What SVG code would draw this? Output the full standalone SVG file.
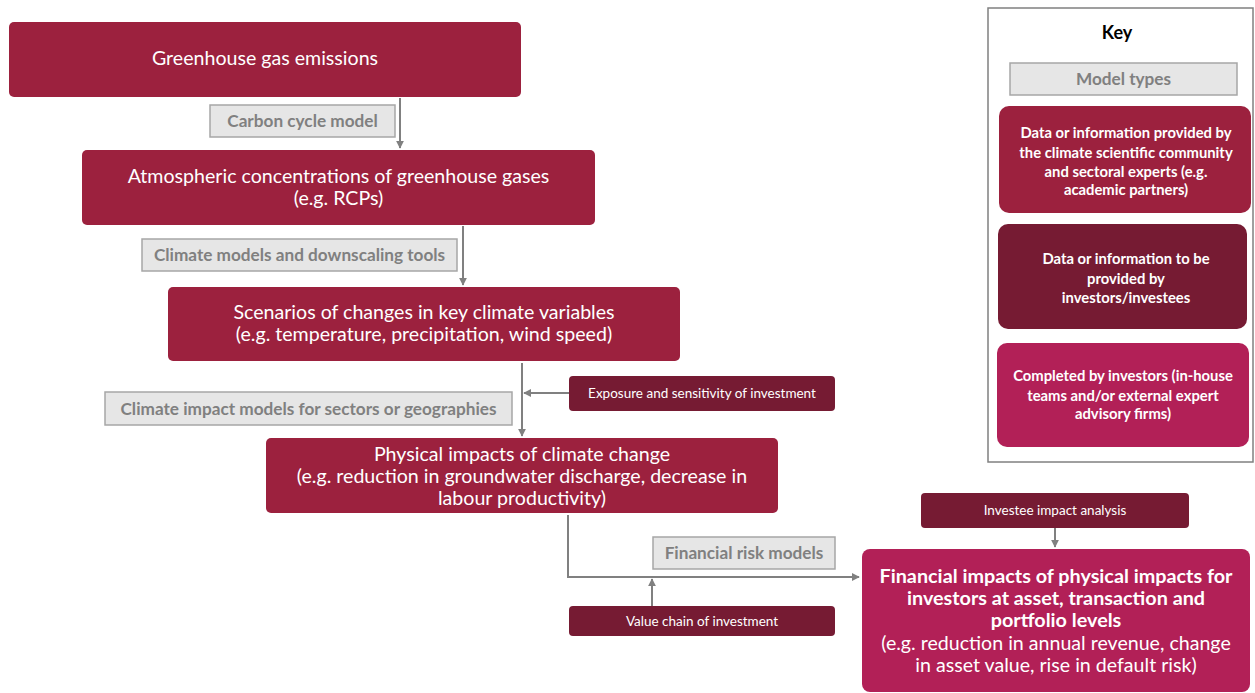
<svg xmlns="http://www.w3.org/2000/svg" width="1255" height="693" viewBox="0 0 1255 693">
<defs>
<style>
.red{fill:#9C213E}
.dark{fill:#761B33}
.mag{fill:#B22057}
.lbl{fill:#E6E6E6;stroke:#A6A6A6;stroke-width:1.5}
.lt{font-family:Lato,"Open Sans",sans-serif;font-weight:bold;font-size:17.2px;fill:#808080;text-anchor:middle}
.nt{font-family:Lato,"Open Sans",sans-serif;font-size:19.6px;fill:#fff;text-anchor:middle}
.st{font-family:Lato,"Open Sans",sans-serif;font-size:13.5px;fill:#fff;text-anchor:middle}
.kt{font-family:Lato,"Open Sans",sans-serif;font-weight:bold;font-size:14.8px;fill:#fff;text-anchor:middle}
.ft{font-family:Lato,"Open Sans",sans-serif;font-weight:bold;font-size:19.8px;fill:#fff;text-anchor:middle}
.con{fill:none;stroke:#808080;stroke-width:2}
</style>
<marker id="ah" viewBox="0 0 10 10" refX="9" refY="5" markerWidth="4" markerHeight="4" orient="auto" markerUnits="strokeWidth">
<path d="M0,0 L10,5 L0,10 z" fill="#808080"/>
</marker>
</defs>
<rect width="1255" height="693" fill="#fff"/>

<g id="connectors">
<path class="con" d="M400,98 V148" marker-end="url(#ah)"/>
<path class="con" d="M463,226 V285" marker-end="url(#ah)"/>
<path class="con" d="M522,363 V436" marker-end="url(#ah)"/>
<path class="con" d="M569,393 H524" marker-end="url(#ah)"/>
<path class="con" d="M568,515 V577 H859" marker-end="url(#ah)"/>
<path class="con" d="M652,606 V579" marker-end="url(#ah)"/>
<path class="con" d="M1055,528 V547" marker-end="url(#ah)"/>
</g>

<g id="ghg">
<rect class="red" x="9" y="22" width="512" height="75" rx="5"/>
<text class="nt" x="265" y="65">Greenhouse gas emissions</text>
</g>
<g id="carbon-cycle-model">
<rect class="lbl" x="210" y="105" width="185" height="32"/>
<text class="lt" x="302.5" y="127">Carbon cycle model</text>
</g>
<g id="atmospheric">
<rect class="red" x="82" y="150" width="513" height="75" rx="5"/>
<text class="nt" x="338.5" y="183">Atmospheric concentrations of greenhouse gases</text>
<text class="nt" x="338.5" y="205">(e.g. RCPs)</text>
</g>
<g id="climate-models">
<rect class="lbl" x="142" y="239" width="315" height="32"/>
<text class="lt" x="299.5" y="261">Climate models and downscaling tools</text>
</g>
<g id="scenarios">
<rect class="red" x="168" y="287" width="512" height="74" rx="5"/>
<text class="nt" x="424" y="319">Scenarios of changes in key climate variables</text>
<text class="nt" x="424" y="341">(e.g. temperature, precipitation, wind speed)</text>
</g>
<g id="exposure">
<rect class="dark" x="569" y="376" width="266" height="35" rx="4"/>
<text class="st" x="702" y="398">Exposure and sensitivity of investment</text>
</g>
<g id="climate-impact-models">
<rect class="lbl" x="105" y="392" width="407" height="33"/>
<text class="lt" x="308.5" y="415">Climate impact models for sectors or geographies</text>
</g>
<g id="physical">
<rect class="red" x="266" y="438" width="512" height="75" rx="5"/>
<text class="nt" x="522" y="461">Physical impacts of climate change</text>
<text class="nt" x="522" y="483">(e.g. reduction in groundwater discharge, decrease in</text>
<text class="nt" x="522" y="505">labour productivity)</text>
</g>
<g id="financial-risk-models">
<rect class="lbl" x="653" y="537" width="182" height="32"/>
<text class="lt" x="744" y="559">Financial risk models</text>
</g>
<g id="value-chain">
<rect class="dark" x="569" y="606" width="266" height="30" rx="4"/>
<text class="st" x="702" y="626">Value chain of investment</text>
</g>
<g id="investee">
<rect class="dark" x="921" y="493" width="268" height="35" rx="4"/>
<text class="st" x="1055" y="515">Investee impact analysis</text>
</g>
<g id="financial">
<rect class="mag" x="862" y="549" width="388" height="143" rx="8"/>
<text class="ft" x="1056" y="583">Financial impacts of physical impacts for</text>
<text class="ft" x="1056" y="605">investors at asset, transaction and</text>
<text class="ft" x="1056" y="627">portfolio levels</text>
<text class="nt" x="1056" y="650">(e.g. reduction in annual revenue, change</text>
<text class="nt" x="1056" y="672">in asset value, rise in default risk)</text>
</g>

<g id="key">
<rect x="988" y="8" width="265" height="454" fill="#fff" stroke="#808080" stroke-width="1.5"/>
<text x="1117" y="39" font-family="Lato,'Open Sans',sans-serif" font-weight="bold" font-size="18" fill="#000" text-anchor="middle">Key</text>
<rect class="lbl" x="1010" y="63" width="227" height="32"/>
<text class="lt" x="1123.5" y="85">Model types</text>
<rect class="red" x="999" y="106" width="252" height="107" rx="10"/>
<text class="kt" x="1126" y="138">Data or information provided by</text>
<text class="kt" x="1126" y="158">the climate scientific community</text>
<text class="kt" x="1126" y="177">and sectoral experts (e.g.</text>
<text class="kt" x="1126" y="195">academic partners)</text>
<rect class="dark" x="998" y="224" width="249" height="105" rx="10"/>
<text class="kt" x="1126" y="264">Data or information to be</text>
<text class="kt" x="1126" y="284">provided by</text>
<text class="kt" x="1126" y="303">investors/investees</text>
<rect class="mag" x="997" y="343" width="252" height="104" rx="10"/>
<text class="kt" x="1123" y="381">Completed by investors (in-house</text>
<text class="kt" x="1123" y="401">teams and/or external expert</text>
<text class="kt" x="1123" y="419">advisory firms)</text>
</g>
</svg>
